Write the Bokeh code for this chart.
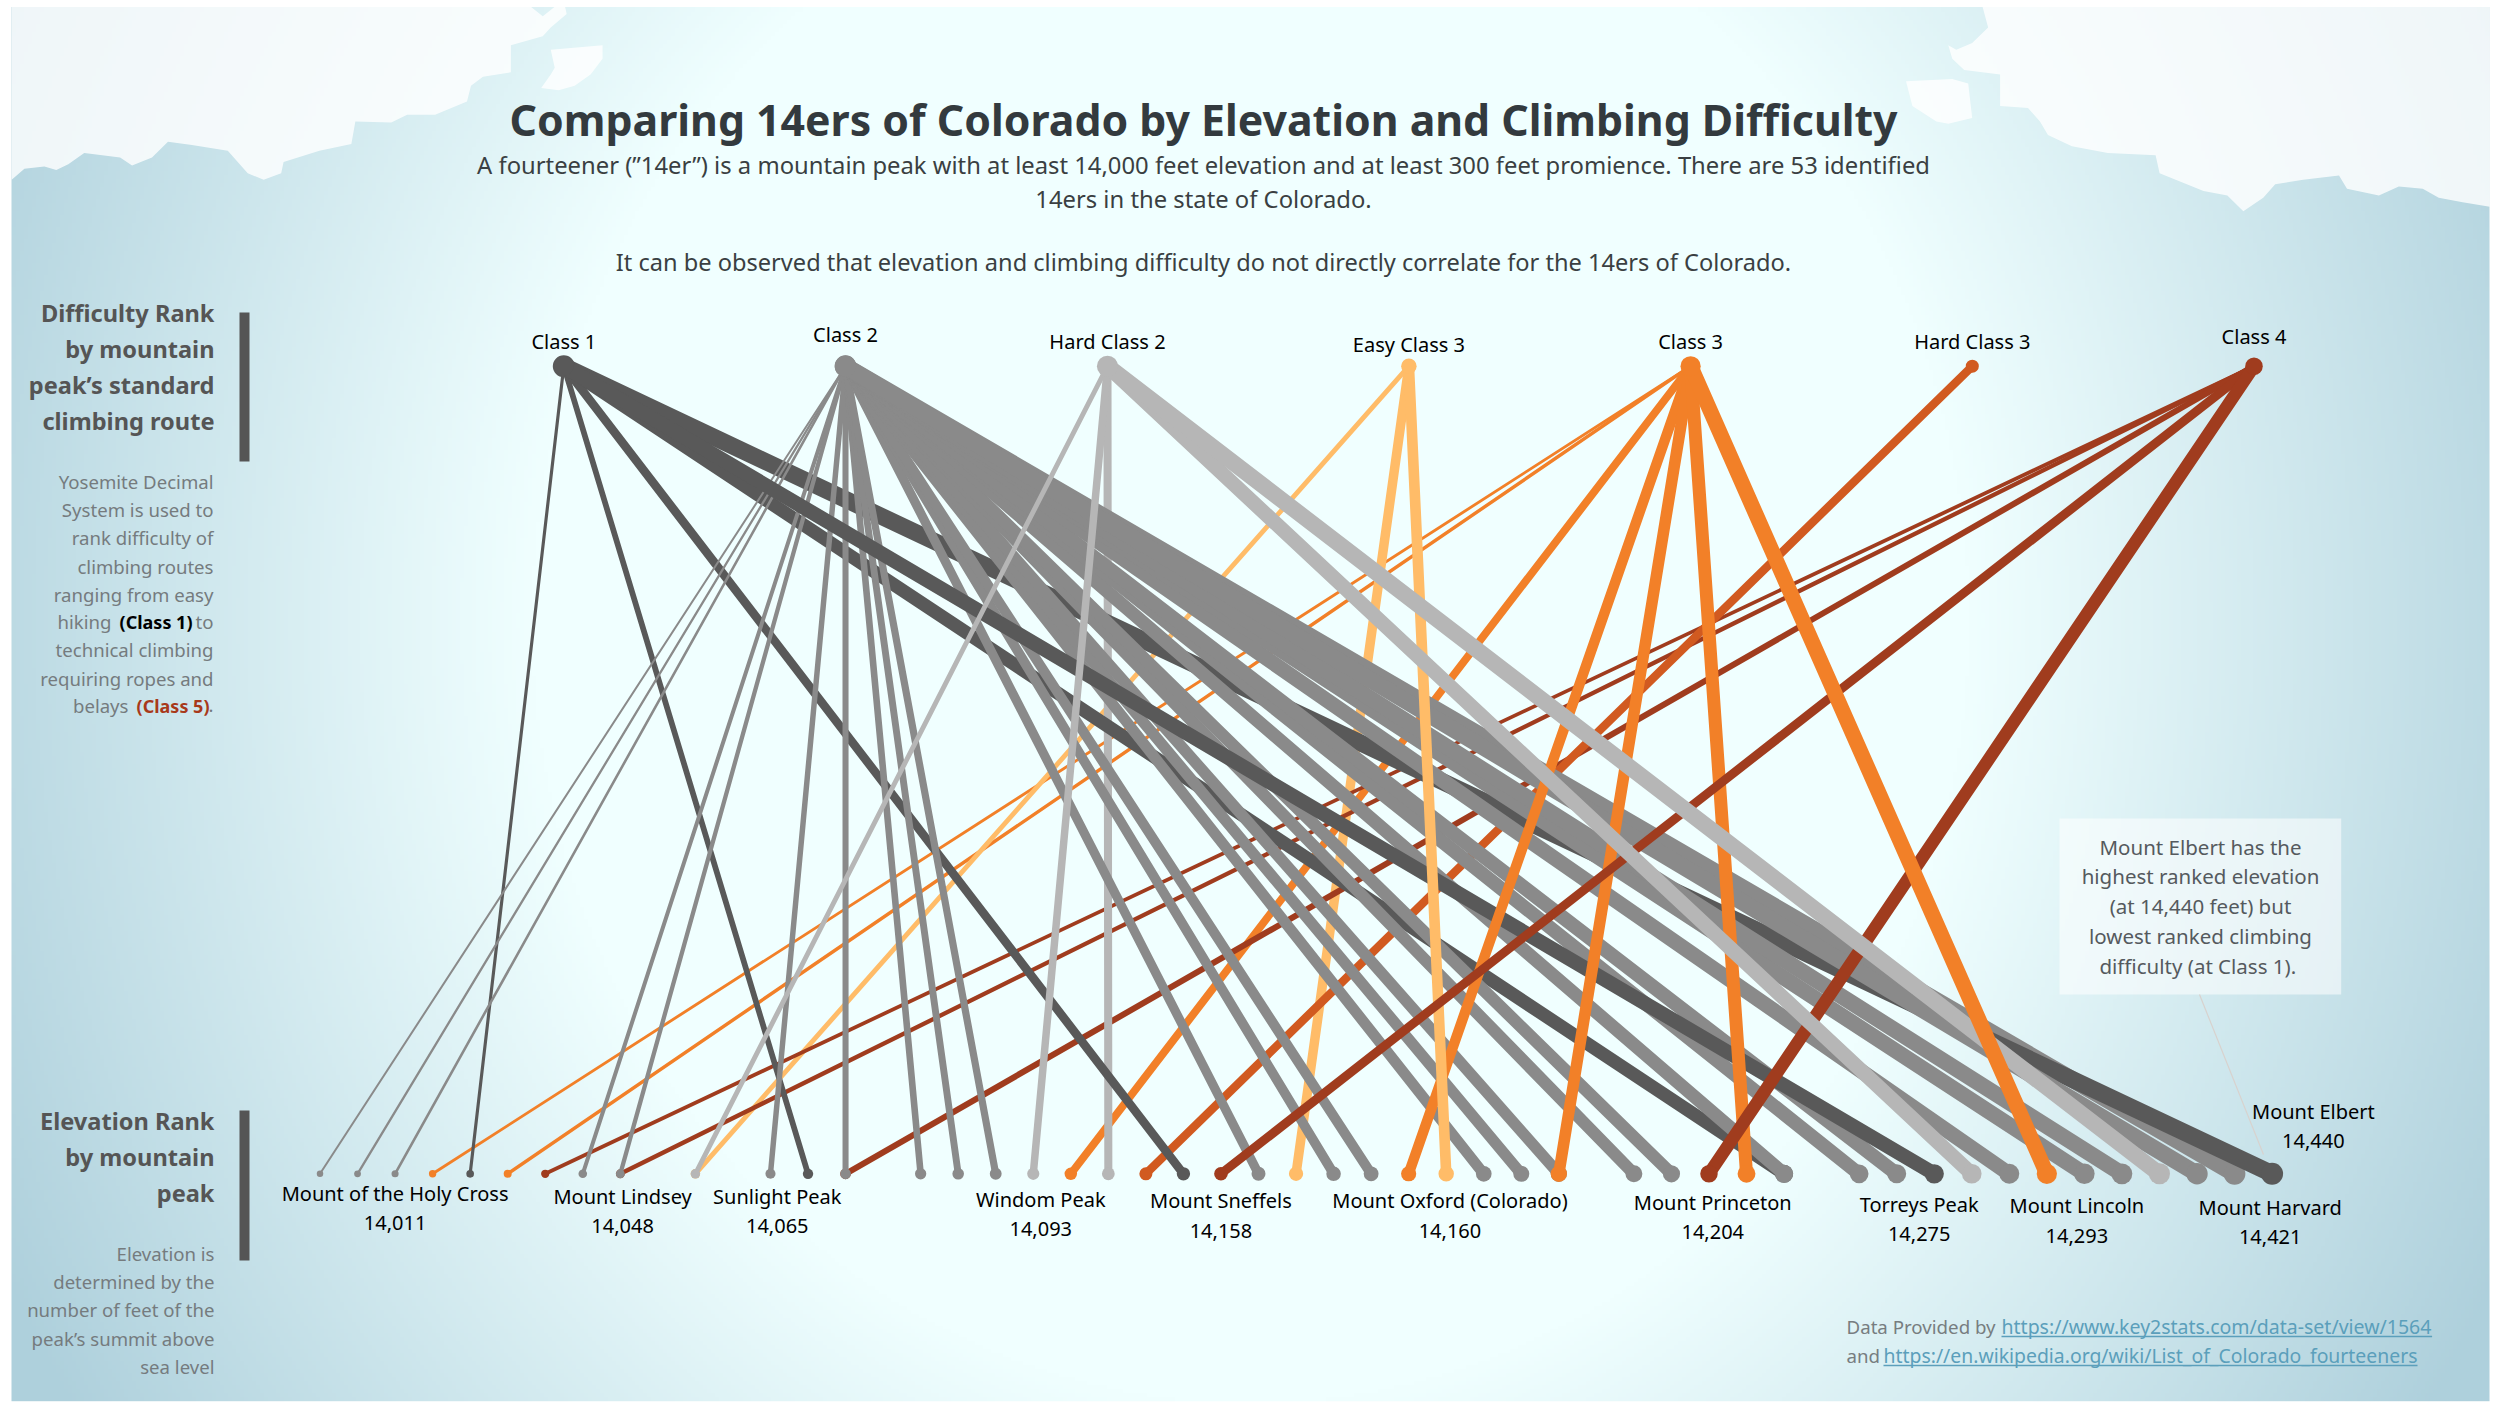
import numpy as np
from bokeh.core.properties import value
from bokeh.embed import file_html
from bokeh.models import Range1d
from bokeh.plotting import figure
from bokeh.resources import INLINE

# ---- data -------------------------------------------------------------
CLASSES = ["Class 1", "Class 2", "Hard Class 2", "Easy Class 3", "Class 3", "Hard Class 3", "Class 4"]
CLASS_COLORS = ["#595959", "#8a8a8a", "#b6b6b6", "#ffbc68", "#f28028", "#d15a20", "#a03c1e"]
DIFFICULTY_POS = [0.0, 1.0, 1.93, 3.0, 4.0, 5.0, 6.0]
# elevation order of each peak (0 = lowest position, 52 = Mount Elbert)
CLASS_1 = [4, 13, 23, 39, 43, 52]
CLASS_2 = [0, 1, 2, 7, 8, 12, 14, 16, 17, 18, 25, 27, 28, 31, 32, 33, 35, 36, 39, 41, 42, 45, 47, 48, 50, 51]
HARD_2 = [10, 19, 21, 44, 49]
EASY_3 = [10, 26, 30]
CLASS_3 = [3, 5, 20, 29, 33, 38, 46]
HARD_3 = [22]
CLASS_4 = [6, 8, 14, 24, 37]

PEAK_NAMES = ["Mount of the Holy Cross", "Mount Lindsey", "Sunlight Peak", "Windom Peak", "Mount Sneffels",
              "Mount Oxford (Colorado)", "Mount Princeton", "Torreys Peak", "Mount Lincoln", "Mount Harvard", "Mount Elbert"]
PEAK_ELEVATIONS = ["14,011", "14,048", "14,065", "14,093", "14,158", "14,160", "14,204", "14,275", "14,293", "14,421", "14,440"]
PEAK_ORDER = [2.0, 8.06, 12.18, 19.2, 24.0, 30.1, 37.1, 42.6, 46.8, 51.95, 53.1]
PEAK_NAME_Y = [1192.7, 1195.7, 1195.7, 1199, 1200, 1200, 1202, 1203.7, 1205, 1206.7, 1111]
PEAK_VALUE_Y = [1222, 1225, 1225, 1228, 1230, 1230, 1231.7, 1233, 1235, 1236, 1140.7]
CLASS_LABEL_Y = [341, 333.5, 341, 344, 341, 341, 336]

# ---- page geometry ----------------------------------------------------
W, H = 2500, 1406
RX0, RDX = 319.5, 37.54
CX0, CDX = 563.3, 281.7
Y_TOP, Y_BOT = 365.7, 1173.3
to_rank = lambda page_x: (page_x - RX0) / RDX
to_lvl = lambda page_y: (Y_BOT - page_y) / (Y_BOT - Y_TOP)

p = figure(width=W, height=H, output_backend="svg", toolbar_location=None,
           x_range=Range1d(to_rank(0), to_rank(W)), y_range=Range1d(to_lvl(H), to_lvl(0)),
           min_border=0, outline_line_color=None, background_fill_color="white", border_fill_color="white")
p.axis.visible = False
p.grid.visible = False
p.extra_x_ranges["px"] = Range1d(0, W)
p.extra_y_ranges["py"] = Range1d(H, 0)
PX = dict(x_range_name="px", y_range_name="py")

# ---- background -------------------------------------------------------
PL, PR, PT, PB = 11.0, 2489.0, 6.5, 1400.7
gh, gw = 350, 620
gy, gx = np.mgrid[0:gh, 0:gw]
xx = PL + (gx + .5) / gw * (PR - PL)
yy = PT + (gy + .5) / gh * (PB - PT)
t = np.sqrt(((xx - 1250) / 1240) ** 2 + ((yy - 620) / 1350) ** 2)
u = np.clip((t - 0.58) / (1.12 - 0.58), 0, 1)[..., None]
rgb = (1 - u) * np.array([240, 255, 255]) + u * np.array([174, 208, 220])
img = np.zeros((gh, gw), dtype=np.uint32)
v = img.view(dtype=np.uint8).reshape((gh, gw, 4))
v[..., :3] = rgb.astype(np.uint8)
v[..., 3] = 255
p.image_rgba(image=[img], x=PL, y=PT, dw=PR - PL, dh=PB - PT, **PX)

SNOW_LEFT = [(14,400),(30,375),(55,370),(70,378),(85,365),(105,340),(150,350),(165,368),(190,350),(210,315),(240,322),(285,335),(310,385),(330,400),(352,385),(355,360),(400,335),(440,320),(445,270),(490,272),(510,255),(545,255),(585,225),(590,190),(605,170),(640,160),(640,100),(680,80),(690,60),(710,30),(708,14),(695,14),(680,35),(665,14),(14,14)]
SNOW_LEFT2 = [(690,110),(755,100),(755,130),(740,165),(720,190),(700,200),(678,195),(690,165),(695,150)]
SNOW_RIGHT = [(918,14),(925,60),(905,95),(885,110),(875,100),(880,130),(895,155),(940,165),(940,235),(975,240),(990,270),(1000,300),(1030,325),(1075,340),(1135,345),(1140,385),(1195,425),(1225,435),(1245,470),(1270,440),(1285,410),(1320,400),(1365,390),(1375,420),(1415,435),(1440,415),(1470,420),(1490,440),(1520,450),(1554,460),(1554,14)]
SNOW_RIGHT2 = [(822,180),(880,175),(900,185),(905,262),(875,275),(860,270),(830,235)]
for poly, off in ((SNOW_LEFT, 0), (SNOW_LEFT2, 0), (SNOW_RIGHT, 1250), (SNOW_RIGHT2, 1250)):
    p.patch([a / 1.254 + off for a, b in poly], [b / 2.23 for a, b in poly],
            fill_color="#ffffff", fill_alpha=0.8, line_color=None, **PX)

# ---- helpers ----------------------------------------------------------
FONT = value("Noto Sans")
def txt(x, y, s, size, color, align="center", style="normal", **kw):
    p.text([x], [y - 1.5], text=[s], text_font=FONT, text_font_size=f"{size}px", text_color=color,
           text_align=align, text_baseline="middle", text_font_style=style, **{**PX, **kw})

# ---- connector and annotation box (under the marks) -------------------
p.quad(left=2059, right=2340.7, top=818, bottom=994, fill_color="#ffffff", fill_alpha=0.55, line_color=None, **PX)
p.line([2199, 2263], [994, 1154], line_color="#d8d2ce", line_width=1.2, **PX)

# ---- lines ------------------------------------------------------------
def draw(cls, orders):
    col = CLASS_COLORS[cls]
    top_x = to_rank(CX0 + CDX * DIFFICULTY_POS[cls])
    for o in orders:
        lw = 2 + o / 52 * 15
        ds = 6.5 + o / 52 * 15.5
        p.segment(x0=[top_x], y0=[1], x1=[o], y1=[0], line_color=col, line_width=lw, line_cap="round")
        p.scatter(x=[top_x, o], y=[1, 0], size=ds, fill_color=col, line_color=None)

def pick(members, *wanted):
    return [o for o in members if o in wanted]

draw(4, pick(CLASS_3, 3, 5, 20))
draw(3, pick(EASY_3, 10, 26))
draw(6, pick(CLASS_4, 6, 8, 14))
draw(5, HARD_3)
draw(2, pick(HARD_2, 21))
draw(1, pick(CLASS_2, 51))
draw(0, pick(CLASS_1, 52, 39, 23, 13, 4))
draw(1, [o for o in CLASS_2 if o != 51])
draw(0, pick(CLASS_1, 43))
draw(2, pick(HARD_2, 10, 19))
draw(4, pick(CLASS_3, 29, 33, 38))
draw(3, pick(EASY_3, 30))
draw(6, pick(CLASS_4, 24, 37))
draw(2, pick(HARD_2, 44, 49))
draw(4, pick(CLASS_3, 46))

# ---- labels -----------------------------------------------------------
for i, c in enumerate(CLASSES):
    p.text([to_rank(CX0 + CDX * DIFFICULTY_POS[i])], [to_lvl(CLASS_LABEL_Y[i])], text=[c], text_font=FONT,
           text_font_size="20px", text_color="#000000", text_align="center", text_baseline="middle")
for n, e, o, ny, ey in zip(PEAK_NAMES, PEAK_ELEVATIONS, PEAK_ORDER, PEAK_NAME_Y, PEAK_VALUE_Y):
    for s, yy_ in ((n, ny), (e, ey)):
        p.text([o], [to_lvl(yy_)], text=[s], text_font=FONT, text_font_size="20px", text_color="#000000",
               text_align="center", text_baseline="middle")

# ---- headings ---------------------------------------------------------
txt(1203, 120, "Comparing 14ers of Colorado by Elevation and Climbing Difficulty", 42.8, "#333a3e", style="bold")
txt(1203, 166, "A fourteener (\u201d14er\u201d) is a mountain peak with at least 14,000 feet elevation and at least 300 feet promience. There are 53 identified", 23.8, "#3a3f42")
txt(1203, 200, "14ers in the state of Colorado.", 23.8, "#3a3f42")
txt(1203, 263, "It can be observed that elevation and climbing difficulty do not directly correlate for the 14ers of Colorado.", 23.6, "#3a3f42")

# ---- left column ------------------------------------------------------
HEAD = "#555555"; SMALL = "#757b7e"
for y, s in zip((314, 350, 386, 422), ("Difficulty Rank", "by mountain", "peak\u2019s standard", "climbing route")):
    txt(214, y, s, 23.6, HEAD, "right", "bold")
p.quad(left=239, right=249, top=312, bottom=461, fill_color="#555555", line_color=None, **PX)
for y, s in zip((482, 510, 538, 567, 595), ("Yosemite Decimal", "System is used to", "rank difficulty of", "climbing routes", "ranging from easy")):
    txt(213, y, s, 18.6, SMALL, "right")
txt(111, 622.7, "hiking", 18.6, SMALL, "right")
txt(192, 622.7, "(Class 1)", 18, "#000000", "right", "bold")
txt(213, 622.7, "to", 18.6, SMALL, "right")
txt(213, 650.7, "technical climbing", 18.6, SMALL, "right")
txt(213, 679, "requiring ropes and", 18.6, SMALL, "right")
txt(128, 706.7, "belays", 18.6, SMALL, "right")
txt(209, 706.7, "(Class 5)", 18, "#a8391a", "right", "bold")
txt(213, 706.7, ".", 18.6, SMALL, "right")

for y, s in zip((1121.7, 1158, 1194), ("Elevation Rank", "by mountain", "peak")):
    txt(214, y, s, 23.6, HEAD, "right", "bold")
p.quad(left=239, right=249, top=1110, bottom=1260, fill_color="#555555", line_color=None, **PX)
for y, s in zip((1254, 1282, 1310, 1339, 1367), ("Elevation is", "determined by the", "number of feet of the", "peak\u2019s summit above", "sea level")):
    txt(214, y, s, 18.6, SMALL, "right")

# ---- annotation text --------------------------------------------------
for y, s in zip((848, 877, 907, 937, 967), ("Mount Elbert has the", "highest ranked elevation", "(at 14,440 feet) but", "lowest ranked climbing", "difficulty (at  Class 1).")):
    txt(2200, y, s, 20.5, "#555a5e")

# ---- footer -----------------------------------------------------------
LINK = "#5b9fbb"
txt(1846, 1327.7, "Data Provided by", 18.7, "#777d80", "left")
txt(2001, 1327.7, "https://www.key2stats.com/data-set/view/1564", 19.5, LINK, "left")
txt(1846, 1356, "and", 18.7, "#777d80", "left")
txt(1883, 1356, "https://en.wikipedia.org/wiki/List_of_Colorado_fourteeners", 19.4, LINK, "left")
p.line([2001, 2431.6], [1336, 1336], line_color=LINK, line_width=1.3, **PX)
p.line([1883, 2417], [1365, 1365], line_color=LINK, line_width=1.3, **PX)

open("out.html", "w").write(file_html(p, INLINE))
